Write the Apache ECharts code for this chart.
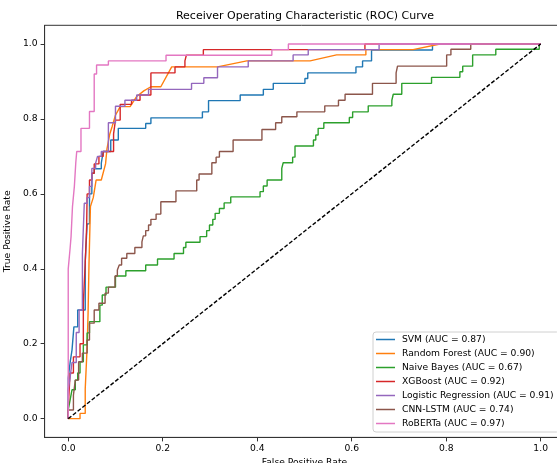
<!DOCTYPE html>
<html>
<head>
<meta charset="utf-8">
<script src="https://cdn.jsdelivr.net/npm/echarts@6/dist/echarts.min.js"></script>
<style>
  html, body { margin: 0; padding: 0; background: #fff; }
  #rocbox { width: 557px; height: 463px; }
</style>
</head>
<body>
<div id="rocbox"></div>
<script>
  // ROC points [fpr, tpr]
  var svm = [[0,0],[0,0.108],[0.004,0.108],[0.004,0.15],[0.008,0.15],[0.008,0.183],[0.012,0.183],[0.012,0.245],[0.02,0.245],[0.02,0.29],[0.036,0.29],[0.036,0.42],[0.04,0.42],[0.04,0.52],[0.045,0.52],[0.045,0.6],[0.05,0.6],[0.05,0.655],[0.055,0.655],[0.055,0.667],[0.07,0.667],[0.07,0.682],[0.074,0.682],[0.074,0.713],[0.09,0.713],[0.09,0.744],[0.106,0.744],[0.106,0.775],[0.164,0.775],[0.164,0.788],[0.175,0.788],[0.175,0.803],[0.284,0.803],[0.284,0.819],[0.297,0.819],[0.297,0.849],[0.364,0.849],[0.364,0.864],[0.413,0.864],[0.413,0.879],[0.434,0.879],[0.434,0.895],[0.501,0.895],[0.501,0.908],[0.507,0.908],[0.507,0.923],[0.609,0.923],[0.609,0.939],[0.623,0.939],[0.623,0.955],[0.642,0.955],[0.642,0.984],[0.771,0.984],[0.771,1],[1,1]];
  var randomForest = [[0,0],[0.025,0],[0.025,0.014],[0.036,0.014],[0.036,0.08],[0.04,0.19],[0.042,0.28],[0.044,0.415],[0.047,0.566],[0.053,0.59],[0.059,0.637],[0.07,0.637],[0.079,0.68],[0.082,0.72],[0.088,0.76],[0.093,0.78],[0.1,0.81],[0.11,0.833],[0.131,0.833],[0.145,0.86],[0.16,0.875],[0.175,0.886],[0.196,0.886],[0.219,0.939],[0.316,0.939],[0.378,0.955],[0.512,0.955],[0.568,0.971],[0.63,0.971],[0.63,0.985],[0.73,0.985],[0.787,1],[1,1]];
  var naiveBayes = [[0,0],[0,0.023],[0.004,0.023],[0.004,0.05],[0.008,0.05],[0.008,0.077],[0.015,0.077],[0.015,0.103],[0.02,0.103],[0.02,0.122],[0.025,0.122],[0.025,0.152],[0.032,0.152],[0.032,0.197],[0.04,0.197],[0.04,0.229],[0.045,0.229],[0.045,0.259],[0.067,0.259],[0.067,0.303],[0.072,0.303],[0.072,0.33],[0.08,0.33],[0.08,0.351],[0.1,0.351],[0.1,0.381],[0.122,0.381],[0.122,0.395],[0.164,0.395],[0.164,0.41],[0.189,0.41],[0.189,0.426],[0.224,0.426],[0.224,0.441],[0.244,0.441],[0.244,0.457],[0.249,0.457],[0.249,0.471],[0.279,0.471],[0.279,0.486],[0.293,0.486],[0.293,0.502],[0.299,0.502],[0.299,0.517],[0.306,0.517],[0.306,0.532],[0.311,0.532],[0.311,0.548],[0.32,0.548],[0.32,0.561],[0.33,0.561],[0.33,0.576],[0.344,0.576],[0.344,0.592],[0.406,0.592],[0.406,0.606],[0.413,0.606],[0.413,0.621],[0.421,0.621],[0.421,0.637],[0.452,0.637],[0.452,0.668],[0.455,0.668],[0.455,0.683],[0.475,0.683],[0.475,0.698],[0.48,0.698],[0.48,0.728],[0.519,0.728],[0.519,0.744],[0.524,0.744],[0.524,0.757],[0.529,0.757],[0.529,0.775],[0.541,0.775],[0.541,0.79],[0.595,0.79],[0.595,0.804],[0.602,0.804],[0.602,0.819],[0.635,0.819],[0.635,0.835],[0.685,0.835],[0.685,0.85],[0.688,0.85],[0.688,0.866],[0.706,0.866],[0.706,0.895],[0.769,0.895],[0.769,0.911],[0.829,0.911],[0.829,0.926],[0.835,0.926],[0.835,0.941],[0.856,0.941],[0.856,0.971],[0.905,0.971],[0.905,0.986],[0.997,0.986],[0.997,1],[1,1]];
  var xgboost = [[0,0],[0,0.03],[0.004,0.03],[0.004,0.122],[0.011,0.122],[0.011,0.165],[0.025,0.165],[0.025,0.2],[0.032,0.2],[0.032,0.31],[0.036,0.31],[0.036,0.415],[0.039,0.415],[0.039,0.512],[0.04,0.512],[0.04,0.6],[0.045,0.6],[0.045,0.637],[0.05,0.637],[0.05,0.655],[0.055,0.655],[0.055,0.68],[0.065,0.68],[0.065,0.7],[0.074,0.7],[0.074,0.713],[0.096,0.713],[0.096,0.76],[0.1,0.76],[0.1,0.797],[0.11,0.797],[0.11,0.839],[0.134,0.839],[0.134,0.85],[0.152,0.85],[0.152,0.864],[0.175,0.864],[0.175,0.923],[0.226,0.923],[0.226,0.939],[0.247,0.939],[0.247,0.955],[0.25,0.955],[0.25,0.97],[0.286,0.97],[0.286,0.985],[0.628,0.985],[0.628,1],[1,1]];
  var logReg = [[0,0],[0,0.077],[0.004,0.077],[0.004,0.11],[0.008,0.11],[0.008,0.15],[0.017,0.15],[0.017,0.23],[0.023,0.23],[0.023,0.29],[0.03,0.29],[0.03,0.44],[0.034,0.44],[0.034,0.575],[0.04,0.575],[0.04,0.59],[0.045,0.59],[0.045,0.62],[0.05,0.62],[0.05,0.668],[0.058,0.668],[0.058,0.682],[0.062,0.682],[0.062,0.7],[0.07,0.7],[0.07,0.713],[0.085,0.713],[0.085,0.79],[0.1,0.79],[0.1,0.834],[0.12,0.834],[0.12,0.85],[0.145,0.85],[0.145,0.864],[0.17,0.864],[0.17,0.879],[0.261,0.879],[0.261,0.895],[0.287,0.895],[0.287,0.91],[0.316,0.91],[0.316,0.939],[0.381,0.939],[0.381,0.955],[0.476,0.955],[0.476,0.971],[0.508,0.971],[0.508,0.985],[0.658,0.985],[0.658,1],[1,1]];
  var cnnLstm = [[0,0],[0,0.023],[0.011,0.023],[0.011,0.063],[0.015,0.063],[0.015,0.103],[0.022,0.103],[0.022,0.152],[0.03,0.152],[0.03,0.175],[0.04,0.175],[0.04,0.21],[0.045,0.21],[0.045,0.255],[0.055,0.255],[0.055,0.29],[0.065,0.29],[0.065,0.308],[0.078,0.308],[0.078,0.335],[0.085,0.335],[0.085,0.351],[0.099,0.351],[0.099,0.381],[0.104,0.381],[0.104,0.397],[0.108,0.397],[0.108,0.41],[0.113,0.41],[0.113,0.428],[0.124,0.428],[0.124,0.441],[0.141,0.441],[0.141,0.457],[0.156,0.457],[0.156,0.472],[0.159,0.472],[0.159,0.488],[0.164,0.488],[0.164,0.502],[0.17,0.502],[0.17,0.517],[0.175,0.517],[0.175,0.532],[0.186,0.532],[0.186,0.546],[0.196,0.546],[0.196,0.579],[0.228,0.579],[0.228,0.608],[0.272,0.608],[0.272,0.637],[0.277,0.637],[0.277,0.653],[0.304,0.653],[0.304,0.683],[0.313,0.683],[0.313,0.698],[0.32,0.698],[0.32,0.713],[0.349,0.713],[0.349,0.744],[0.41,0.744],[0.41,0.772],[0.439,0.772],[0.439,0.79],[0.452,0.79],[0.452,0.806],[0.484,0.806],[0.484,0.819],[0.543,0.819],[0.543,0.835],[0.572,0.835],[0.572,0.85],[0.586,0.85],[0.586,0.866],[0.644,0.866],[0.644,0.895],[0.694,0.895],[0.694,0.923],[0.697,0.923],[0.697,0.941],[0.801,0.941],[0.801,0.971],[0.81,0.971],[0.81,0.986],[0.852,0.986],[0.852,1],[1,1]];
  var roberta = [[0,0],[0,0.4],[0.004,0.4],[0.004,0.455],[0.006,0.455],[0.006,0.486],[0.009,0.486],[0.009,0.566],[0.013,0.566],[0.013,0.62],[0.016,0.62],[0.016,0.683],[0.018,0.683],[0.018,0.713],[0.027,0.713],[0.027,0.775],[0.045,0.775],[0.045,0.82],[0.055,0.82],[0.055,0.92],[0.06,0.92],[0.06,0.944],[0.085,0.944],[0.085,0.955],[0.207,0.955],[0.207,0.97],[0.431,0.97],[0.431,0.985],[0.466,0.985],[0.466,1],[1,1]];
  var chance = [[0,0],[1,1]];

  var modelNames = ['SVM (AUC = 0.87)', 'Random Forest (AUC = 0.90)', 'Naive Bayes (AUC = 0.67)',
    'XGBoost (AUC = 0.92)', 'Logistic Regression (AUC = 0.91)', 'CNN-LSTM (AUC = 0.74)', 'RoBERTa (AUC = 0.97)'];
  var modelCurves = [svm, randomForest, naiveBayes, xgboost, logReg, cnnLstm, roberta];
  var colors = ['#1f77b4', '#ff7f0e', '#2ca02c', '#d62728', '#9467bd', '#8c564b', '#e377c2'];
  var ticks = [0, 0.2, 0.4, 0.6, 0.8, 1.0];

  var font = 'DejaVu Sans';
  var myChart = echarts.init(document.getElementById('rocbox'));

  var series = modelCurves.map(function (pts, i) {
    return {
      name: modelNames[i],
      type: 'line',
      data: pts,
      symbol: 'none',
      color: colors[i],
      lineStyle: { width: 1.4, color: colors[i] },
      animation: false
    };
  });
  series.push({
    name: 'chance',
    type: 'line',
    data: chance,
    symbol: 'none',
    lineStyle: { width: 1.4, color: '#000', type: [4, 2] },
    animation: false
  });

  function axisCommon(name, gap) {
    return {
      type: 'value',
      min: -0.05,
      max: 1.05,
      name: name,
      nameLocation: 'middle',
      nameGap: gap,
      nameTextStyle: { fontFamily: font, fontSize: 9.2, color: '#000' },
      splitLine: { show: false },
      axisLine: { show: true, onZero: false, lineStyle: { color: '#333', width: 1 } },
      axisTick: { show: true, inside: false, length: 4, customValues: ticks, lineStyle: { color: '#333' } },
      axisLabel: {
        customValues: ticks,
        fontFamily: font, fontSize: 9.2, color: '#000',
        formatter: function (v) { return v.toFixed(1); }
      }
    };
  }

  var xAx = axisCommon('False Positive Rate', 19);
  xAx.axisLabel.margin = 7;
  var yAx = axisCommon('True Positive Rate', 21);
  yAx.axisLabel.margin = 7;

  var option = {
    backgroundColor: '#fff',
    title: {
      text: 'Receiver Operating Characteristic (ROC) Curve',
      left: 300,
      textAlign: 'center',
      top: 6,
      textStyle: { fontFamily: font, fontSize: 11, fontWeight: 'normal', color: '#000' }
    },
    grid: {
      left: 44.6, top: 25.3, width: 519.7, height: 412.1,
      outerBoundsMode: 'none',
      containLabel: false,
      show: true, borderColor: '#333', borderWidth: 1, backgroundColor: 'transparent'
    },
    legend: {
      data: modelNames,
      orient: 'vertical',
      left: 373,
      top: 332,
      icon: 'rect',
      itemWidth: 19,
      itemHeight: 1.5,
      itemGap: 4,
      padding: [2.5, 6, 3.5, 3],
      backgroundColor: 'rgba(255,255,255,0.8)',
      borderColor: '#d0d0d0',
      borderWidth: 1,
      borderRadius: 3,
      textStyle: { fontFamily: font, fontSize: 9.2, color: '#000', lineHeight: 10, padding: [0, 0, 0, 2] }
    },
    xAxis: xAx,
    yAxis: yAx,
    series: series
  };

  myChart.setOption(option);
</script>
</body>
</html>
